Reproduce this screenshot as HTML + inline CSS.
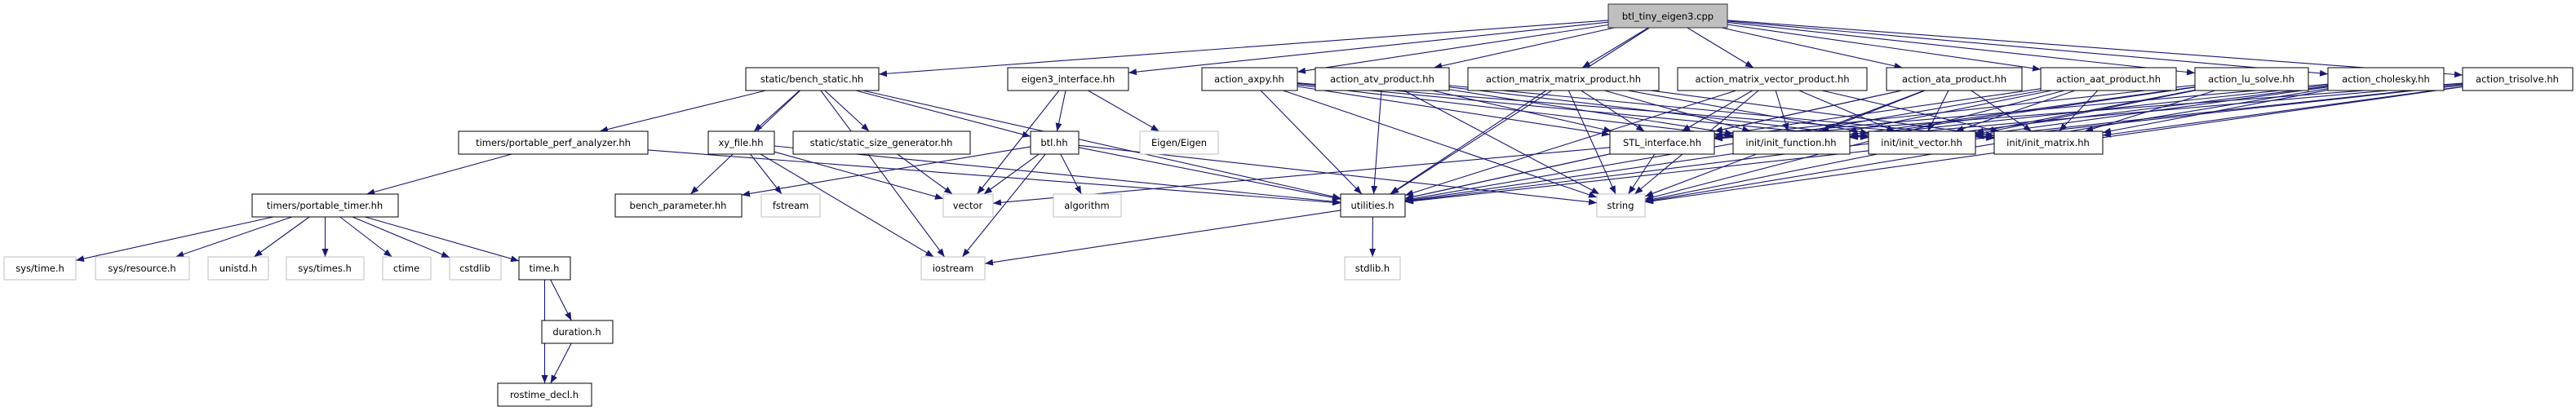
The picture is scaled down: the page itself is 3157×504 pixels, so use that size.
<!DOCTYPE html>
<html><head><meta charset="utf-8"><style>
html,body{margin:0;padding:0;background:#fff;width:3157px;height:504px;overflow:hidden}
svg text{font-family:"DejaVu Sans","Liberation Sans",sans-serif;font-size:11.5px;fill:#000}
</style></head><body>
<svg id="g" width="3157" height="504" xmlns="http://www.w3.org/2000/svg">
<defs><marker id="ah" markerWidth="10" markerHeight="8" refX="10" refY="4" orient="auto" markerUnits="userSpaceOnUse"><path d="M0,0 L10,4 L0,8 z" fill="#191970"/></marker></defs>
<g id="edges" stroke="#191970" stroke-width="1.1" fill="none"></g>
<g id="nodes">
<rect x="1971" y="5" width="146" height="29" fill="#bfbfbf" stroke="#333"/><text x="2044" y="24" text-anchor="middle">btl_tiny_eigen3.cpp</text>
<rect x="914" y="83" width="163" height="28" fill="#fff" stroke="#000"/><text x="995" y="101" text-anchor="middle">static/bench_static.hh</text>
<rect x="1235" y="83" width="148" height="28" fill="#fff" stroke="#000"/><text x="1309" y="101" text-anchor="middle">eigen3_interface.hh</text>
<rect x="1473" y="83" width="117" height="28" fill="#fff" stroke="#000"/><text x="1531" y="101" text-anchor="middle">action_axpy.hh</text>
<rect x="1612" y="83" width="164" height="28" fill="#fff" stroke="#000"/><text x="1694" y="101" text-anchor="middle">action_atv_product.hh</text>
<rect x="1799" y="83" width="234" height="28" fill="#fff" stroke="#000"/><text x="1916" y="101" text-anchor="middle">action_matrix_matrix_product.hh</text>
<rect x="2056" y="83" width="232" height="28" fill="#fff" stroke="#000"/><text x="2172" y="101" text-anchor="middle">action_matrix_vector_product.hh</text>
<rect x="2312" y="83" width="166" height="28" fill="#fff" stroke="#000"/><text x="2395" y="101" text-anchor="middle">action_ata_product.hh</text>
<rect x="2501" y="83" width="166" height="28" fill="#fff" stroke="#000"/><text x="2584" y="101" text-anchor="middle">action_aat_product.hh</text>
<rect x="2690" y="83" width="139" height="28" fill="#fff" stroke="#000"/><text x="2759" y="101" text-anchor="middle">action_lu_solve.hh</text>
<rect x="2853" y="83" width="142" height="28" fill="#fff" stroke="#000"/><text x="2924" y="101" text-anchor="middle">action_cholesky.hh</text>
<rect x="3018" y="83" width="135" height="28" fill="#fff" stroke="#000"/><text x="3085" y="101" text-anchor="middle">action_trisolve.hh</text>
<rect x="562" y="161" width="232" height="28" fill="#fff" stroke="#000"/><text x="678" y="179" text-anchor="middle">timers/portable_perf_analyzer.hh</text>
<rect x="868" y="161" width="81" height="28" fill="#fff" stroke="#000"/><text x="908" y="179" text-anchor="middle">xy_file.hh</text>
<rect x="972" y="161" width="217" height="28" fill="#fff" stroke="#000"/><text x="1080" y="179" text-anchor="middle">static/static_size_generator.hh</text>
<rect x="1263" y="161" width="59" height="28" fill="#fff" stroke="#000"/><text x="1292" y="179" text-anchor="middle">btl.hh</text>
<rect x="1397" y="161" width="96" height="28" fill="#fff" stroke="#bfbfbf"/><text x="1445" y="179" text-anchor="middle">Eigen/Eigen</text>
<rect x="1973" y="161" width="128" height="28" fill="#fff" stroke="#000"/><text x="2037" y="179" text-anchor="middle">STL_interface.hh</text>
<rect x="2124" y="161" width="143" height="28" fill="#fff" stroke="#000"/><text x="2195" y="179" text-anchor="middle">init/init_function.hh</text>
<rect x="2290" y="161" width="131" height="28" fill="#fff" stroke="#000"/><text x="2355" y="179" text-anchor="middle">init/init_vector.hh</text>
<rect x="2444" y="161" width="133" height="28" fill="#fff" stroke="#000"/><text x="2510" y="179" text-anchor="middle">init/init_matrix.hh</text>
<rect x="309" y="238" width="179" height="28" fill="#fff" stroke="#000"/><text x="398" y="256" text-anchor="middle">timers/portable_timer.hh</text>
<rect x="754" y="238" width="155" height="28" fill="#fff" stroke="#000"/><text x="831" y="256" text-anchor="middle">bench_parameter.hh</text>
<rect x="933" y="238" width="72" height="28" fill="#fff" stroke="#bfbfbf"/><text x="969" y="256" text-anchor="middle">fstream</text>
<rect x="1156" y="238" width="61" height="28" fill="#fff" stroke="#bfbfbf"/><text x="1186" y="256" text-anchor="middle">vector</text>
<rect x="1291" y="238" width="83" height="28" fill="#fff" stroke="#bfbfbf"/><text x="1332" y="256" text-anchor="middle">algorithm</text>
<rect x="1643" y="238" width="79" height="28" fill="#fff" stroke="#000"/><text x="1682" y="256" text-anchor="middle">utilities.h</text>
<rect x="1957" y="238" width="59" height="28" fill="#fff" stroke="#bfbfbf"/><text x="1986" y="256" text-anchor="middle">string</text>
<rect x="5" y="315" width="88" height="28" fill="#fff" stroke="#bfbfbf"/><text x="49" y="333" text-anchor="middle">sys/time.h</text>
<rect x="117" y="315" width="115" height="28" fill="#fff" stroke="#bfbfbf"/><text x="174" y="333" text-anchor="middle">sys/resource.h</text>
<rect x="255" y="315" width="74" height="28" fill="#fff" stroke="#bfbfbf"/><text x="292" y="333" text-anchor="middle">unistd.h</text>
<rect x="351" y="315" width="95" height="28" fill="#fff" stroke="#bfbfbf"/><text x="398" y="333" text-anchor="middle">sys/times.h</text>
<rect x="469" y="315" width="59" height="28" fill="#fff" stroke="#bfbfbf"/><text x="498" y="333" text-anchor="middle">ctime</text>
<rect x="551" y="315" width="63" height="28" fill="#fff" stroke="#bfbfbf"/><text x="582" y="333" text-anchor="middle">cstdlib</text>
<rect x="636" y="315" width="63" height="28" fill="#fff" stroke="#000"/><text x="667" y="333" text-anchor="middle">time.h</text>
<rect x="1129" y="315" width="78" height="28" fill="#fff" stroke="#bfbfbf"/><text x="1168" y="333" text-anchor="middle">iostream</text>
<rect x="1648" y="315" width="68" height="28" fill="#fff" stroke="#bfbfbf"/><text x="1682" y="333" text-anchor="middle">stdlib.h</text>
<rect x="664" y="393" width="87" height="28" fill="#fff" stroke="#000"/><text x="707" y="411" text-anchor="middle">duration.h</text>
<rect x="610" y="470" width="115" height="28" fill="#fff" stroke="#000"/><text x="667" y="488" text-anchor="middle">rostime_decl.h</text>
</g>
</svg>
<script>
var N={btl:[1971,2117,5,34],bs:[914,1077,83,111],ei:[1235,1383,83,111],ax:[1473,1590,83,111],atv:[1612,1776,83,111],mm:[1799,2033,83,111],mv:[2056,2288,83,111],ata:[2312,2478,83,111],aat:[2501,2667,83,111],lu:[2690,2829,83,111],ch:[2853,2995,83,111],tr:[3018,3153,83,111],
pa:[562,794,161,189],xy:[868,949,161,189],ssg:[972,1189,161,189],bh:[1263,1322,161,189],eig:[1397,1493,161,189],stl:[1973,2101,161,189],ifn:[2124,2267,161,189],ivec:[2290,2421,161,189],imat:[2444,2577,161,189],
pt:[309,488,238,266],bp:[754,909,238,266],fs:[933,1005,238,266],vec:[1156,1217,238,266],alg:[1291,1374,238,266],ut:[1643,1722,238,266],str:[1957,2016,238,266],
st:[5,93,315,343],sr:[117,232,315,343],un:[255,329,315,343],stm:[351,446,315,343],ct:[469,528,315,343],cs:[551,614,315,343],th:[636,699,315,343],io:[1129,1207,315,343],sl:[1648,1716,315,343],
du:[664,751,393,421],rd:[610,725,470,498]};
var E=[["btl","bs"],["btl","ei"],["btl","ax"],["btl","atv"],["btl","mm"],["btl","mv"],["btl","ata"],["btl","aat"],["btl","lu"],["btl","ch"],["btl","tr"],["btl","ut"],
["bs","pa"],["bs","bp"],["bs","xy"],["bs","ssg"],["bs","bh"],["bs","ut"],["bs","io"],["pa","pt"],["pa","ut"],
["pt","st"],["pt","sr"],["pt","un"],["pt","stm"],["pt","ct"],["pt","cs"],["pt","th"],["th","du"],["th","rd"],["du","rd"],
["xy","fs"],["xy","vec"],["xy","io"],["xy","ut"],["ssg","vec"],["bh","bp"],["bh","vec"],["bh","io"],["bh","alg"],["bh","ut"],["bh","str"],
["ei","vec"],["ei","bh"],["ei","eig"],["ut","io"],["ut","sl"],["stl","vec"],["stl","ut"],["stl","str"]];
["ax","atv","mm","mv","ata","aat","lu","ch","tr"].forEach(function(a){["ut","str","stl","ifn","ivec","imat"].forEach(function(b){E.push([a,b]);});});
function clip(r,px,py){var cx=(r[0]+r[1])/2,cy=(r[2]+r[3])/2,dx=px-cx,dy=py-cy,hw=(r[1]-r[0])/2,hh=(r[3]-r[2])/2;
var t=Math.min(dx?hw/Math.abs(dx):1e9,dy?hh/Math.abs(dy):1e9);return [cx+dx*t,cy+dy*t];}
var g=document.getElementById("edges"),s="";
E.forEach(function(e){var a=N[e[0]],b=N[e[1]];var ac=[(a[0]+a[1])/2,(a[2]+a[3])/2],bc=[(b[0]+b[1])/2,(b[2]+b[3])/2];
var p=clip(a,bc[0],bc[1]),q=clip(b,ac[0],ac[1]);
s+='<path d="M'+p[0].toFixed(1)+','+p[1].toFixed(1)+' L'+q[0].toFixed(1)+','+q[1].toFixed(1)+'" marker-end="url(#ah)"/>';});
g.innerHTML=s;
</script>
</body></html>
